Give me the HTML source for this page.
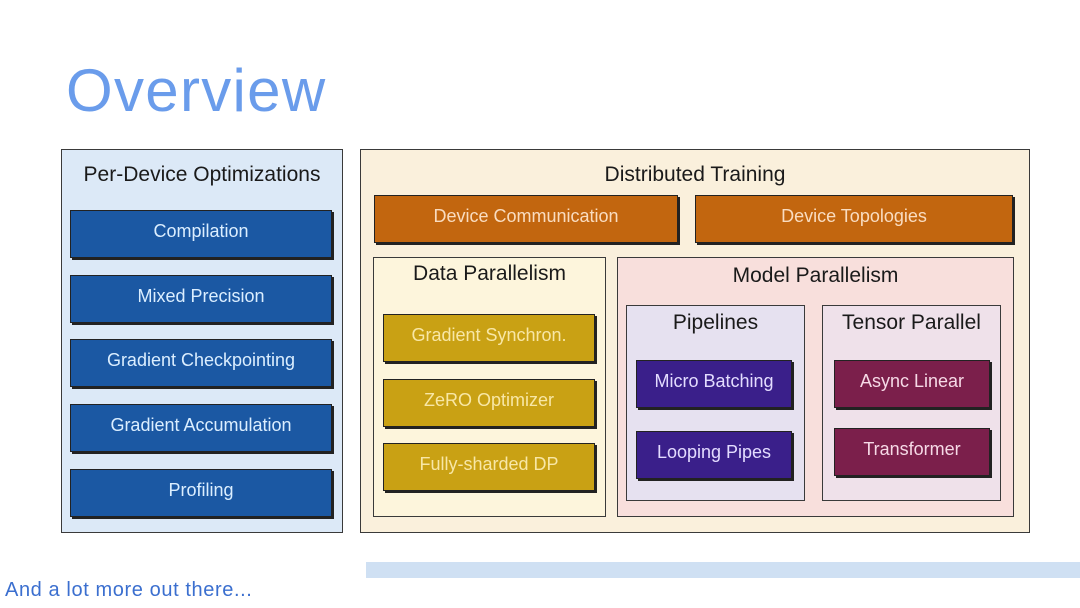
<!DOCTYPE html>
<html><head><meta charset="utf-8"><style>
body{margin:0;width:1080px;height:608px;background:#fff;position:relative;overflow:hidden;font-family:"Liberation Sans",sans-serif}
.a{position:absolute;box-sizing:border-box}
.box{border:1.5px solid #3a3a3a}
.t{position:absolute;text-align:center;color:#1a1a1a;font-size:21px}
.btn{position:absolute;box-sizing:border-box;display:flex;align-items:center;justify-content:center;font-size:18px;border:1px solid #222;box-shadow:2px 2px 0 #222;padding-bottom:5px}
.bl{background:#1b58a3;color:#dbeeff}
.or{background:#c2660f;color:#f9dcc0}
.go{background:#c9a114;color:#f8e7a6}
.pu{background:#3a1f8a;color:#e3dcff}
.ma{background:#7b1f4b;color:#f6d9e6}
</style></head><body>
<div class="a" style="left:66px;top:56px;font-size:60px;color:#6a9ceb;letter-spacing:1.3px">Overview</div>

<div class="a box" style="left:61px;top:149px;width:282px;height:384px;background:#dce9f7"></div>
<div class="t" style="left:61px;top:163px;width:282px">Per-Device Optimizations</div>
<div class="btn bl" style="left:70px;top:210px;width:262px;height:48px">Compilation</div>
<div class="btn bl" style="left:70px;top:275px;width:262px;height:48px">Mixed Precision</div>
<div class="btn bl" style="left:70px;top:339px;width:262px;height:48px">Gradient Checkpointing</div>
<div class="btn bl" style="left:70px;top:404px;width:262px;height:48px">Gradient Accumulation</div>
<div class="btn bl" style="left:70px;top:469px;width:262px;height:48px">Profiling</div>

<div class="a box" style="left:360px;top:149px;width:670px;height:384px;background:#faf0dc"></div>
<div class="t" style="left:360px;top:163px;width:670px">Distributed Training</div>
<div class="btn or" style="left:374px;top:195px;width:304px;height:48px">Device Communication</div>
<div class="btn or" style="left:695px;top:195px;width:318px;height:48px">Device Topologies</div>

<div class="a box" style="left:373px;top:257px;width:233px;height:260px;background:#fdf5dc"></div>
<div class="t" style="left:373px;top:262px;width:233px">Data Parallelism</div>
<div class="btn go" style="left:383px;top:314px;width:212px;height:48px">Gradient Synchron.</div>
<div class="btn go" style="left:383px;top:379px;width:212px;height:48px">ZeRO Optimizer</div>
<div class="btn go" style="left:383px;top:443px;width:212px;height:48px">Fully-sharded DP</div>

<div class="a box" style="left:617px;top:257px;width:397px;height:260px;background:#f8dfdc"></div>
<div class="t" style="left:617px;top:264px;width:397px">Model Parallelism</div>
<div class="a box" style="left:626px;top:305px;width:179px;height:196px;background:#e6e1f0"></div>
<div class="t" style="left:626px;top:311px;width:179px">Pipelines</div>
<div class="btn pu" style="left:636px;top:360px;width:156px;height:48px">Micro Batching</div>
<div class="btn pu" style="left:636px;top:431px;width:156px;height:48px">Looping Pipes</div>
<div class="a box" style="left:822px;top:305px;width:179px;height:196px;background:#efe1ea"></div>
<div class="t" style="left:822px;top:311px;width:179px">Tensor Parallel</div>
<div class="btn ma" style="left:834px;top:360px;width:156px;height:48px">Async Linear</div>
<div class="btn ma" style="left:834px;top:428px;width:156px;height:48px">Transformer</div>

<div class="a" style="left:366px;top:562px;width:714px;height:16px;background:#cfe0f3"></div>
<div class="a" style="left:5px;top:579px;font-size:20px;color:#3b6fcf;letter-spacing:0.6px">And a lot more out there...</div>
</body></html>
